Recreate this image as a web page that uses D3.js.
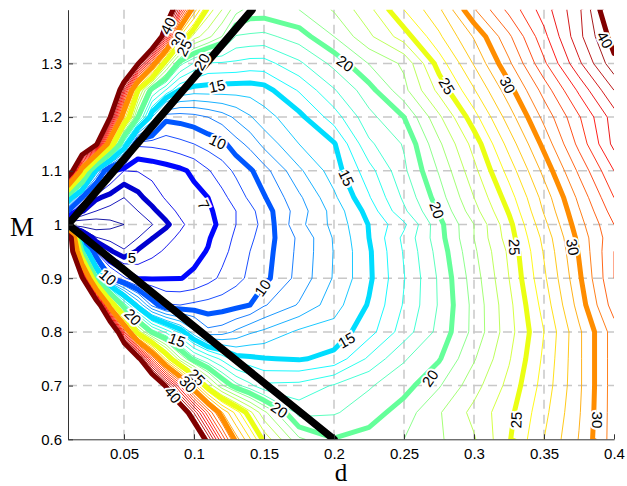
<!DOCTYPE html>
<html><head><meta charset="utf-8">
<script src="https://cdn.jsdelivr.net/npm/d3@7"></script>
<style>body{margin:0;background:#fff}svg{display:block}</style>
</head><body>
<svg id="chart" width="627" height="486"></svg>
<script>
// grid coordinates
const dGrid = [0.01,0.02,0.03,0.04,0.05,0.06,0.07,0.08,0.09,0.10,0.11,0.12,0.13,0.14,0.15,0.175,0.2,0.225,0.25,0.275,0.3,0.325,0.35,0.375,0.4];
const mGrid = [1.4,1.35,1.3,1.25,1.2,1.15,1.1,1.05,1.025,1.0,0.975,0.95,0.9,0.85,0.8,0.75,0.7,0.65,0.6];
// field values, one row per M (top to bottom)
const z140 = [50,50,50,50,50,50,50,44,36,28.7,24.6,23,21.4,20.6,20.6,21.0,22.1,23.7,26.0,27.8,30.9,33.3,35.5,37.8,41.5];
const z135 = [50,50,50,50,50,50,47,36.9,26.9,23.5,22.3,21.0,18.9,18.8,18.7,19.5,21.0,22.8,24.5,26.8,29.1,31.8,34.7,37.7,40.5];
const z130 = [50,50,50,50,48,40.3,31.8,23.8,19.4,17.9,16.9,16.85,16.8,16.6,16.6,17.8,19.3,21.05,22.2,25.45,28.1,30.8,33.8,36.8,39.7];
const z125 = [50,50,50,48,36.4,25,19.2,16.9,14.9,14.5,14.5,14.45,14.4,14.4,14.6,16.1,17.9,19.6,21.7,24.3,26.9,29.6,32.4,35.2,38];
const z120 = [50,50,48,40.2,27.8,20,14,10.3,10.4,10.6,11.0,11.5,12.2,12.9,13.6,14.7,16.5,18.7,20.0,22.8,25.6,28.5,31.3,33.9,36.5];
const z115 = [50,48,41,27.5,16.9,8.2,8.25,8.4,8.7,9.0,9.4,9.7,10.6,11.3,12.3,14.0,14.9,17.8,19.1,21.8,24.4,27.4,30.3,33.3,36.3];
const z110 = [46,28,14.2,7.4,6.0,6.05,6.3,6.55,6.8,7.2,7.9,8.55,9.2,9.85,10.6,12.8,14.5,16.6,18.8,21.1,23.7,26.4,29.3,32.2,35];
const z105 = [17,10,5.2,4.6,4.0,4.7,5.5,6.1,6.4,6.7,7.0,7.7,8.45,9.2,9.9,11.8,13.8,15.9,18.2,20.5,23.0,25.5,28.4,31.25,34];
const z1025 = [10,5.1,4.0,3.6,3.5,4.0,4.7,5.6,6.2,6.55,6.85,7.3,8.0,8.7,9.5,11.5,13.4,15.4,17.8,20.1,22.6,25.1,28.1,30.9,33.5];
const z100 = [1,2.0,2.3,2.7,3.0,3.5,3.95,4.75,5.8,6.4,6.8,7.15,8.0,8.6,9.3,11.7,13.3,15.05,16.8,19.7,22.0,24.7,27.7,30.6,33];
const z0975 = [50,8,4.1,3.6,3.5,4.0,4.95,5.7,6.2,6.55,6.9,7.5,8.2,8.8,9.45,11.2,13.1,15.0,17.25,19.6,22.0,24.5,27.3,30.3,32.8];
const z095 = [50,20,7.7,5.2,4.1,5.15,5.7,6.15,6.5,6.75,7.05,7.7,8.35,9.0,9.55,11.25,13.05,14.85,17.1,19.4,21.8,24.2,27.1,30.1,33];
const z090 = [50,41,20,10,8.2,6.9,6.9,6.95,6.97,7.15,7.66,8.2,8.7,9.2,9.7,11.35,13.1,14.8,16.95,19.15,21.5,24.0,26.8,29.8,33];
const z085 = [50,50,45,28,18.7,14.2,10.7,9.1,9.0,9.2,9.35,9.5,9.7,10.0,10.9,12.1,13.6,15.1,17.1,19.1,21.3,23.7,26.4,29.4,32.5];
const z080 = [50,50,50,48,34,24,19.7,17.7,15.7,13.3,11.3,11.5,12.2,12.85,13.2,14.2,14.4,15.6,17.5,19.3,21.3,23.6,26,28.8,31.5];
const z075 = [50,50,50,50,49,41.1,33.3,26.7,22.2,19.4,18.0,16.7,15.4,15.2,15.05,14.9,15.3,17.2,18.9,19.9,21.9,23.9,26.2,28.8,31.5];
const z070 = [50,50,50,50,50,50,45.2,39.6,34,28.5,24,21.2,19.4,18.3,17.2,17.3,18.1,18.9,19.6,20.9,22.6,24.3,26.4,28.8,31.5];
const z065 = [50,50,50,50,50,50,50,47.6,42.8,37.9,33.1,29.1,26.6,24.3,22.3,18.6,18.9,19.5,20.5,21.9,23.3,24.7,26.7,28.9,31.5];
const z060 = [50,50,50,50,50,50,50,50,50,43.9,38.9,33.9,29.5,27.1,24.7,21.2,20.05,20.4,21.0,21.85,22.9,24.9,27.0,29.05,31.5];
const zRows = [z140,z135,z130,z125,z120,z115,z110,z105,z1025,z100,z0975,z095,z090,z085,z080,z075,z070,z065,z060];

const thinLevels = [3,4,6,8,9,11,12,13,14,16,17,18,19,21,22,23,24,26,27,28,29,31,32,33,34,35,36,37,38,39];
const thickLevels = [5,7,10,15,20,25,30,40];
const xTicks = [0.05,0.1,0.15,0.2,0.25,0.3,0.35,0.4];
const yTicks = [0.6,0.7,0.8,0.9,1.0,1.1,1.2,1.3];
const wedgeUpper = [[0.01,1.0],[0.1415,1.4]];
const wedgeLower = [[0.01,1.0],[0.2,0.6]];
// contour labels: text, d, M, rotation
const labelText = ["40","30","25","20","15","10","7","5","10","15","15","20","20","20","20","25","25","25","30","30","30","40","10","20","15","25","30","40"];
const labelD = [0.0814,0.0886,0.0929,0.1055,0.1164,0.117,0.107,0.0557,0.149,0.209,0.209,0.161,0.208,0.2736,0.2686,0.2807,0.329,0.33,0.324,0.3707,0.388,0.3936,0.0386,0.0564,0.0879,0.102,0.0957,0.085];
const labelM = [1.370,1.344,1.329,1.303,1.258,1.154,1.037,0.938,0.882,1.087,0.785,0.655,1.300,1.027,0.714,1.258,0.958,0.636,1.260,0.958,0.636,1.344,0.902,0.828,0.785,0.716,0.703,0.683];
const labelRot = [-63,-63,-63,-60,-12,25,65,0,-55,65,-30,35,35,70,-55,60,88,-88,63,80,90,60,40,45,20,45,45,50];

const svg = d3.select('#chart');
const L=68, R=614, T=9.7, B=439.3;
const x = d3.scaleLinear().domain([0.01,0.4]).range([L,R]);
const y = d3.scaleLinear().domain([0.6,1.4]).range([B,T]);
const nx = dGrid.length, ny = mGrid.length;
const colIdx = d3.scaleLinear().domain(d3.range(nx)).range(dGrid);
const rowIdx = d3.scaleLinear().domain(d3.range(ny)).range(mGrid);
const values = zRows.flat();

function jet(v){
  const t=(v-2)/(40-2);
  const c=a=>Math.max(0,Math.min(1,a));
  const r=c(Math.min(4*t-1.5,-4*t+4.5)), g=c(Math.min(4*t-0.5,-4*t+3.5)), b=c(Math.min(4*t+0.5,-4*t+2.5));
  return d3.rgb(r*255,g*255,b*255).formatHex();
}

svg.append('defs').append('clipPath').attr('id','clip')
  .append('rect').attr('x',L).attr('y',T).attr('width',R-L).attr('height',B-T);

// grid
const grid = svg.append('g');
grid.selectAll('line.v').data(xTicks.filter(t=>t<0.4)).join('line')
  .attr('x1',d=>x(d)).attr('x2',d=>x(d)).attr('y1',T).attr('y2',B)
  .attr('stroke','#c8c8c8').attr('stroke-width',1.5).attr('stroke-dasharray','9,6');
grid.selectAll('line.h').data(yTicks.filter(t=>t>0.6)).join('line')
  .attr('x1',L).attr('x2',R).attr('y1',d=>y(d)).attr('y2',d=>y(d))
  .attr('stroke','#c8c8c8').attr('stroke-width',1.5).attr('stroke-dasharray','9,6');

const plot = svg.append('g').attr('clip-path','url(#clip)');
const contours = d3.contours().size([nx,ny]);
const line = d3.line().x(p=>x(colIdx(p[0]-0.5))).y(p=>y(rowIdx(p[1]-0.5)));
function drawLevel(level,width){
  const c = contours.contour(values, level);
  c.coordinates.forEach(poly=>poly.forEach(ring=>{
    plot.append('path').attr('d',line(ring)).attr('fill','none')
      .attr('stroke',jet(level)).attr('stroke-width',width)
      .attr('stroke-linejoin','round').attr('stroke-linecap','round');
  }));
}
thinLevels.forEach(l=>drawLevel(l,0.9));
thickLevels.forEach(l=>drawLevel(l,5));

// wedge lines
const wl = d3.line().x(p=>x(p[0])).y(p=>y(p[1]));
[wedgeUpper,wedgeLower].forEach(w=>{
  plot.append('path').attr('d',wl(w)).attr('fill','none').attr('stroke','#000')
    .attr('stroke-width',7.5).attr('stroke-linecap','round');
});

// labels
const lab = svg.append('g').attr('clip-path','url(#clip)');
labelText.forEach((t,i)=>{
  const px=x(labelD[i]), py=y(labelM[i]);
  lab.append('text').attr('transform',`translate(${px},${py}) rotate(${labelRot[i]})`)
    .attr('text-anchor','middle').attr('dominant-baseline','central')
    .attr('font-family','Liberation Sans, Arial, sans-serif').attr('font-size',15)
    .attr('fill','#000').attr('stroke','#fff').attr('stroke-width',4).attr('paint-order','stroke')
    .text(t);
});

// axes
const fmt = d=>String(+d.toFixed(2));
const ax = svg.append('g').attr('transform',`translate(0,${B})`)
  .call(d3.axisBottom(x).tickValues(xTicks).tickSizeInner(-5).tickSizeOuter(0).tickPadding(9).tickFormat(fmt));
const ay = svg.append('g').attr('transform',`translate(${L},0)`)
  .call(d3.axisLeft(y).tickValues(yTicks).tickSizeInner(-5).tickSizeOuter(0).tickPadding(6).tickFormat(fmt));
[ax,ay].forEach(a=>{
  a.selectAll('path,line').attr('stroke','#333').attr('stroke-width',1);
  a.selectAll('text').attr('font-family','Liberation Sans, Arial, sans-serif').attr('font-size',15).attr('fill','#000');
});

svg.append('text').attr('x',22).attr('y',236).attr('text-anchor','middle')
  .attr('font-family','Liberation Serif, Times New Roman, serif').attr('font-size',27).text('M');
svg.append('text').attr('x',341).attr('y',481).attr('text-anchor','middle')
  .attr('font-family','Liberation Serif, Times New Roman, serif').attr('font-size',25).text('d');
</script>
</body></html>
